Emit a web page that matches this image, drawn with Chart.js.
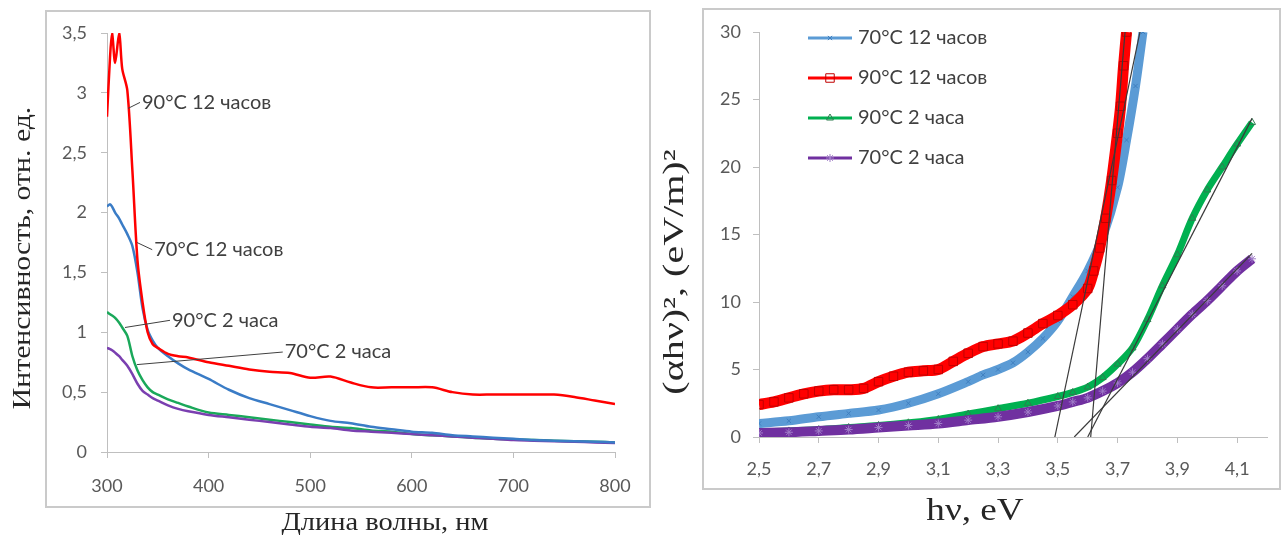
<!DOCTYPE html>
<html>
<head>
<meta charset="utf-8">
<script src="https://cdn.jsdelivr.net/npm/chart.js@4.4.0/dist/chart.umd.min.js"></script>
<style>
body { margin:0; background:#fff; width:1284px; height:540px; position:relative; overflow:hidden; }
.ramka { position:absolute; border:2px solid #cacaca; box-sizing:border-box; }
canvas { position:absolute; top:0; }
</style>
</head>
<body>
<div class="ramka" style="left:45px;top:10px;width:606px;height:498px"></div>
<div class="ramka" style="left:702px;top:8px;width:579px;height:482px"></div>
<canvas id="levyi" width="660" height="540" style="left:0"></canvas>
<canvas id="pravyi" width="634" height="540" style="left:650px"></canvas>
<script>
// ---- левый график: спектры ----
const dlinaVolny = [300,303,305,308,312,315,320,325,330,335,340,345,350,360,370,380,400,420,440,460,480,500,520,540,560,580,600,620,640,660,680,700,720,740,760,780,800];
const s90_12 = [2.8,3.3,3.5,3.25,3.5,3.2,3.02,2.35,1.6,1.25,1.0,0.9,0.87,0.82,0.8,0.79,0.75,0.72,0.69,0.67,0.66,0.62,0.63,0.58,0.54,0.54,0.54,0.54,0.5,0.48,0.48,0.48,0.48,0.48,0.46,0.43,0.4];
const s70_12 = [2.05,2.07,2.05,2.0,1.95,1.9,1.82,1.72,1.5,1.2,1.02,0.93,0.87,0.8,0.74,0.69,0.61,0.52,0.45,0.4,0.35,0.3,0.26,0.24,0.21,0.19,0.17,0.16,0.14,0.13,0.12,0.11,0.1,0.095,0.09,0.085,0.08];
const s90_2 = [1.17,1.15,1.14,1.12,1.08,1.04,0.97,0.8,0.68,0.6,0.54,0.5,0.48,0.44,0.41,0.38,0.33,0.31,0.29,0.27,0.25,0.23,0.21,0.2,0.18,0.17,0.15,0.14,0.13,0.12,0.11,0.105,0.1,0.095,0.09,0.085,0.08];
const s70_2 = [0.87,0.86,0.85,0.83,0.8,0.77,0.72,0.65,0.57,0.51,0.48,0.45,0.43,0.39,0.36,0.34,0.31,0.29,0.27,0.25,0.23,0.21,0.2,0.18,0.17,0.16,0.15,0.14,0.13,0.12,0.11,0.1,0.095,0.09,0.085,0.08,0.075];

// ---- правый график: (αhν)² от hν ----
const ev90_12 = [2.5,2.55,2.6,2.65,2.7,2.75,2.8,2.85,2.9,2.95,3.0,3.05,3.1,3.15,3.2,3.25,3.3,3.35,3.4,3.45,3.5,3.55,3.6,3.62,3.64,3.66,3.68,3.7,3.71,3.72,3.73];
const a90_12 = [2.4,2.6,2.9,3.2,3.4,3.5,3.5,3.6,4.1,4.5,4.8,4.9,5.0,5.6,6.2,6.7,6.9,7.1,7.7,8.4,9.0,9.8,11.0,12.3,14.0,16.2,19.0,22.5,24.5,27.5,30];
const ev70_12 = [2.5,2.6,2.7,2.8,2.9,3.0,3.1,3.2,3.25,3.3,3.35,3.4,3.45,3.5,3.55,3.6,3.65,3.7,3.73,3.76,3.785];
const a70_12 = [1.0,1.2,1.5,1.75,2.0,2.5,3.2,4.1,4.6,5.0,5.5,6.3,7.3,8.6,10.4,12.3,14.8,18.5,22.0,26.0,30];
const evNizk = [2.5,2.6,2.7,2.8,2.9,3.0,3.1,3.2,3.3,3.4,3.5,3.55,3.6,3.65,3.7,3.75,3.8,3.85,3.9,3.95,4.0,4.05,4.1,4.15];
const a90_2 = [0.35,0.45,0.55,0.7,0.85,1.05,1.3,1.7,2.1,2.5,3.0,3.3,3.7,4.4,5.4,6.6,8.7,11.2,13.5,16.2,18.3,20.0,21.7,23.3];
const a70_2 = [0.3,0.35,0.45,0.55,0.7,0.85,1.0,1.25,1.5,1.85,2.3,2.6,2.9,3.4,4.0,4.8,5.8,6.9,8.0,9.1,10.1,11.2,12.3,13.2];
// касательные: [x0, x1], [y0, y1]
const kasat70_12 = [[3.49, 3.775], [0, 30]];
const kasat90_12 = [[3.61, 3.725], [0, 30]];
const kasat90_2 = [[3.6, 4.15], [0, 23.6]];
const kasat70_2 = [[3.555, 4.15], [0, 13.6]];
const metkiEv = [2.5,2.7,2.9,3.1,3.3,3.5,3.7,3.9,4.1];

const nazvaniya = ['70°C 12 часов', '90°C 12 часов', '90°C 2 часа', '70°C 2 часа'];

Chart.defaults.font.family = 'Lato';
Chart.defaults.animation = false;

function para(xs, ys) { return xs.map((x, i) => ({ x: x, y: ys[i] })); }
function zapyataya(v) { return String(Math.round(v * 10) / 10).replace('.', ','); }

const podpisi = [
  { tekst: nazvaniya[1], ot: [320.7, 2.87], k: [332.5, 2.92] },
  { tekst: nazvaniya[0], ot: [329.5, 1.75], k: [344.5, 1.69] },
  { tekst: nazvaniya[2], ot: [317.7, 1.04], k: [362, 1.1] },
  { tekst: nazvaniya[3], ot: [329.5, 0.73], k: [473, 0.835] }
];

const podpisiPlugin = {
  id: 'podpisi',
  afterDatasetsDraw(chart) {
    const ctx = chart.ctx, sx = chart.scales.x, sy = chart.scales.y;
    ctx.save();
    ctx.strokeStyle = '#404040';
    ctx.lineWidth = 1;
    ctx.fillStyle = '#404040';
    ctx.font = '20px Lato';
    ctx.textBaseline = 'middle';
    podpisi.forEach(p => {
      const x0 = sx.getPixelForValue(p.ot[0]), y0 = sy.getPixelForValue(p.ot[1]);
      const x1 = sx.getPixelForValue(p.k[0]), y1 = sy.getPixelForValue(p.k[1]);
      ctx.beginPath();
      ctx.moveTo(x0, y0);
      ctx.lineTo(x1, y1);
      ctx.stroke();
      ctx.fillText(p.tekst, x1 + 2, y1);
    });
    ctx.restore();
  }
};

// подписи осей: шрифт с засечками, немного растянут по длине
const zagolovkiPlugin = {
  id: 'zagolovki',
  afterDraw(chart, args, opts) {
    const ctx = chart.ctx;
    opts.spisok.forEach(z => {
      ctx.save();
      ctx.translate(z.x, z.y);
      if (z.povorot) ctx.rotate(-Math.PI / 2);
      ctx.scale(z.rast, 1);
      ctx.font = z.razmer + 'px "Liberation Serif"';
      ctx.fillStyle = '#262626';
      ctx.textAlign = 'center';
      ctx.textBaseline = 'middle';
      ctx.fillText(z.tekst, 0, 0);
      ctx.restore();
    });
  }
};

function osLin(opts) {
  return Object.assign({
    type: 'linear',
    grid: { drawOnChartArea: false, tickLength: 6, color: '#bfbfbf' },
    border: { color: '#bfbfbf', width: 1 }
  }, opts);
}

new Chart(document.getElementById('levyi'), {
  type: 'line',
  data: {
    datasets: [
      { label: nazvaniya[1], data: para(dlinaVolny, s90_12), borderColor: '#ff0000', borderWidth: 2.5, order: 1 },
      { label: nazvaniya[0], data: para(dlinaVolny, s70_12), borderColor: '#3a7cc6', borderWidth: 2.5, order: 2 },
      { label: nazvaniya[2], data: para(dlinaVolny, s90_2), borderColor: '#1aa85a', borderWidth: 2.5, order: 4 },
      { label: nazvaniya[3], data: para(dlinaVolny, s70_2), borderColor: '#7a3fb0', borderWidth: 2.5, order: 3 }
    ]
  },
  options: {
    responsive: false,
    elements: { point: { radius: 0 }, line: { tension: 0.3 } },
    layout: { padding: { left: 0, top: 33, right: 45, bottom: 0 } },
    plugins: {
      legend: { display: false }, tooltip: { enabled: false },
      zagolovki: { spisok: [
        { tekst: 'Длина волны, нм', x: 385, y: 523, razmer: 25, rast: 1.14 },
        { tekst: 'Интенсивность, отн. ед.', x: 23, y: 258, razmer: 25, rast: 1.19, povorot: true }
      ] }
    },
    scales: {
      x: osLin({
        min: 300, max: 800,
        ticks: { stepSize: 100, color: '#595959', font: { size: 18 }, padding: 17, maxRotation: 0 },
        afterFit(s) { s.height = 88; }
      }),
      y: osLin({
        min: 0, max: 3.5,
        ticks: { stepSize: 0.5, color: '#595959', font: { size: 18 }, padding: 14, callback: v => zapyataya(v) },
        afterFit(s) { s.width = 107; }
      })
    }
  },
  plugins: [podpisiPlugin, zagolovkiPlugin]
});

const stiliRyadov = [
  { cvet: '#5b9bd5', tochka: '#3f7fbf', forma: 'crossRot', r: 3, fon: '#5b9bd5', tol: 9 },
  { cvet: '#ff0000', tochka: '#c00000', forma: 'rect', r: 6, fon: 'rgba(0,0,0,0)', tol: 11 },
  { cvet: '#00b050', tochka: '#2e7d4f', forma: 'triangle', r: 4, fon: 'rgba(0,0,0,0)', tol: 7 },
  { cvet: '#7030a0', tochka: '#a07cc8', forma: 'star', r: 4, fon: '#7030a0', tol: 10 }
];

function ryad(i, dannye, order) {
  const s = stiliRyadov[i];
  return {
    label: nazvaniya[i], data: dannye, order: order,
    borderColor: s.cvet, borderWidth: s.tol,
    pointStyle: s.forma, pointRadius: s.r, pointBorderColor: s.tochka,
    pointBackgroundColor: s.fon, pointBorderWidth: 1
  };
}
function kasat(k) {
  return { label: '', data: para(k[0], k[1]), borderColor: '#3a3a3a', borderWidth: 1.2, pointRadius: 0, order: 0, tension: 0 };
}

const legendaPlugin = {
  id: 'legenda',
  afterDraw(chart) {
    const ctx = chart.ctx, a = chart.chartArea;
    ctx.save();
    ctx.font = '20px Lato';
    ctx.textBaseline = 'middle';
    stiliRyadov.forEach((s, i) => {
      const y = a.top + 6 + i * 40, x0 = a.left + 49, x1 = a.left + 93;
      ctx.strokeStyle = s.cvet;
      ctx.lineWidth = 3;
      ctx.beginPath();
      ctx.moveTo(x0, y);
      ctx.lineTo(x1, y);
      ctx.stroke();
      ctx.strokeStyle = s.tochka;
      ctx.fillStyle = s.fon;
      ctx.lineWidth = 1;
      Chart.helpers.drawPoint(ctx, { pointStyle: s.forma, radius: s.r, borderWidth: 1, rotation: 0 }, (x0 + x1) / 2, y);
      ctx.fillStyle = '#404040';
      ctx.fillText(nazvaniya[i], x1 + 6, y);
    });
    ctx.restore();
  }
};

new Chart(document.getElementById('pravyi'), {
  type: 'line',
  data: {
    datasets: [
      ryad(0, para(ev70_12, a70_12), 2),
      ryad(1, para(ev90_12, a90_12), 1),
      ryad(2, para(evNizk, a90_2), 4),
      ryad(3, para(evNizk, a70_2), 3),
      kasat(kasat70_12), kasat(kasat90_12), kasat(kasat90_2), kasat(kasat70_2)
    ]
  },
  options: {
    responsive: false,
    elements: { line: { tension: 0.3 } },
    layout: { padding: { left: 0, top: 32, right: 17, bottom: 0 } },
    plugins: {
      legend: { display: false }, tooltip: { enabled: false },
      zagolovki: { spisok: [
        { tekst: 'hν, eV', x: 325, y: 512, razmer: 31, rast: 1.2 },
        { tekst: '(αhν)², (eV/m)²', x: 25, y: 272, razmer: 29, rast: 1.38, povorot: true }
      ] }
    },
    scales: {
      x: osLin({
        min: 2.5, max: 4.2,
        afterBuildTicks(s) { s.ticks = metkiEv.map(v => ({ value: v })); },
        ticks: { color: '#595959', font: { size: 18 }, padding: 15, maxRotation: 0, autoSkip: false, callback: v => zapyataya(v) },
        afterFit(s) { s.height = 103; }
      }),
      y: osLin({
        min: 0, max: 30,
        ticks: { stepSize: 5, color: '#595959', font: { size: 18 }, padding: 12 },
        afterFit(s) { s.width = 109; }
      })
    }
  },
  plugins: [legendaPlugin, zagolovkiPlugin]
});
</script>
</body>
</html>
